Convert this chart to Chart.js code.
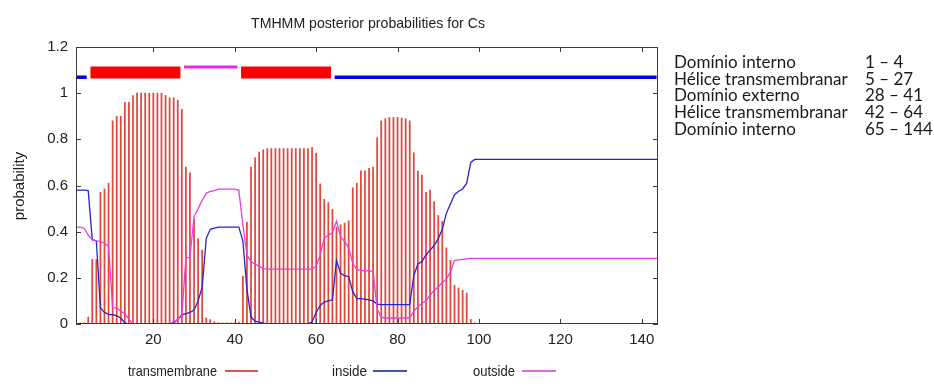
<!DOCTYPE html>
<html>
<head>
<meta charset="utf-8">
<script src="https://cdn.jsdelivr.net/npm/chart.js@4.4.1/dist/chart.umd.min.js"></script>
<style>
  html, body { margin: 0; padding: 0; background: #fff; }
  #wrap { position: relative; width: 934px; height: 388px; }
  #tmChart { position: absolute; left: 0; top: 0; }
  .panel { position: absolute; top: 54px; font-family: Lato, "Open Sans", sans-serif; font-size: 17px; line-height: 16.7px; color: #1a1a1a; white-space: nowrap; }
  #names { left: 674px; }
  #ranges { left: 865px; }
</style>
</head>
<body>
<div id="wrap">
  <canvas id="tmChart" width="934" height="388"></canvas>
  <div id="names" class="panel"></div>
  <div id="ranges" class="panel"></div>
</div>
<script>
// posterior probabilities per residue (1..144)
const transmembrane = [
  0.005, 0.005, 0.005, 0.03, 0.28, 0.28, 0.57, 0.585, 0.61, 0.88,
  0.90, 0.90, 0.96, 0.96, 0.99, 1.0, 1.0, 1.0, 1.0, 1.0,
  1.0, 1.0, 0.99, 0.98, 0.98, 0.97, 0.93, 0.68, 0.655, 0.455,
  0.37, 0.32, 0.026, 0.019, 0.01, 0.005, 0.005, 0.005, 0.005, 0.005,
  0.008, 0.207, 0.44, 0.68, 0.72, 0.745, 0.755, 0.76, 0.76, 0.76,
  0.76, 0.76, 0.76, 0.76, 0.76, 0.76, 0.76, 0.76, 0.765, 0.74,
  0.607, 0.54, 0.526, 0.497, 0.42, 0.43, 0.437, 0.447, 0.59, 0.61,
  0.664, 0.664, 0.674, 0.68, 0.807, 0.88, 0.89, 0.895, 0.895, 0.895,
  0.892, 0.889, 0.88, 0.742, 0.663, 0.645, 0.57, 0.58, 0.53, 0.47,
  0.445, 0.33, 0.275, 0.167, 0.156, 0.146, 0.134, 0.02, 0.005, 0,
  0, 0, 0, 0, 0, 0, 0, 0, 0, 0,
  0, 0, 0, 0, 0, 0, 0, 0, 0, 0,
  0, 0, 0, 0, 0, 0, 0, 0, 0, 0,
  0, 0, 0, 0, 0, 0, 0, 0, 0, 0,
  0, 0, 0, 0
];
const inside = [
  0.58, 0.58, 0.58, 0.578, 0.365, 0.36, 0.07, 0.05, 0.042, 0.04,
  0.036, 0.026, 0.005, 0, 0, 0, 0, 0, 0, 0,
  0, 0, 0, 0, 0.005, 0.02, 0.04, 0.045, 0.05, 0.06,
  0.10, 0.16, 0.37, 0.41, 0.415, 0.42, 0.42, 0.42, 0.42, 0.42,
  0.42, 0.36, 0.15, 0.03, 0.012, 0.008, 0.004, 0, 0, 0,
  0, 0, 0, 0, 0, 0, 0, 0, 0.01, 0.05,
  0.08, 0.095, 0.10, 0.105, 0.275, 0.22, 0.21, 0.205, 0.14, 0.11,
  0.11, 0.108, 0.105, 0.10, 0.086, 0.084, 0.084, 0.084, 0.084, 0.084,
  0.084, 0.084, 0.084, 0.21, 0.26, 0.27, 0.30, 0.32, 0.34, 0.37,
  0.41, 0.48, 0.52, 0.56, 0.575, 0.585, 0.61, 0.70, 0.713, 0.713,
  0.713, 0.713, 0.713, 0.713, 0.713, 0.713, 0.713, 0.713, 0.713, 0.713,
  0.713, 0.713, 0.713, 0.713, 0.713, 0.713, 0.713, 0.713, 0.713, 0.713,
  0.713, 0.713, 0.713, 0.713, 0.713, 0.713, 0.713, 0.713, 0.713, 0.713,
  0.713, 0.713, 0.713, 0.713, 0.713, 0.713, 0.713, 0.713, 0.713, 0.713,
  0.713, 0.713, 0.713, 0.713
];
const outside = [
  0.42, 0.42, 0.415, 0.385, 0.365, 0.36, 0.357, 0.35, 0.336, 0.07,
  0.07, 0.055, 0.045, 0.02, 0, 0, 0, 0, 0, 0,
  0, 0, 0, 0, 0.01, 0.02, 0.033, 0.285, 0.29, 0.465,
  0.50, 0.535, 0.566, 0.575, 0.578, 0.584, 0.584, 0.584, 0.584, 0.584,
  0.58, 0.43, 0.30, 0.27, 0.26, 0.25, 0.24, 0.238, 0.238, 0.238,
  0.238, 0.238, 0.238, 0.238, 0.238, 0.238, 0.238, 0.238, 0.238, 0.25,
  0.30, 0.37, 0.385, 0.395, 0.445, 0.38, 0.357, 0.33, 0.264, 0.235,
  0.232, 0.23, 0.23, 0.228, 0.065, 0.03, 0.026, 0.026, 0.026, 0.026,
  0.026, 0.026, 0.026, 0.055, 0.075, 0.09, 0.10, 0.125, 0.145, 0.16,
  0.18, 0.195, 0.225, 0.275, 0.278, 0.28, 0.282, 0.284, 0.284, 0.284,
  0.284, 0.284, 0.284, 0.284, 0.284, 0.284, 0.284, 0.284, 0.284, 0.284,
  0.284, 0.284, 0.284, 0.284, 0.284, 0.284, 0.284, 0.284, 0.284, 0.284,
  0.284, 0.284, 0.284, 0.284, 0.284, 0.284, 0.284, 0.284, 0.284, 0.284,
  0.284, 0.284, 0.284, 0.284, 0.284, 0.284, 0.284, 0.284, 0.284, 0.284,
  0.284, 0.284, 0.284, 0.284
];

// predicted topology
const domainNames = ["Domínio interno", "Hélice transmembranar", "Domínio externo", "Hélice transmembranar", "Domínio interno"];
const domainStart = [1, 5, 28, 42, 65];
const domainEnd = [4, 27, 41, 64, 144];
const domainKind = ["inside", "tm", "outside", "tm", "inside"];

const xTicks = [20, 40, 60, 80, 100, 120, 140];
const yTicks = [0, 0.2, 0.4, 0.6, 0.8, 1, 1.2];
const yTickLabels = ["0", "0.2", "0.4", "0.6", "0.8", "1", "1.2"];

const RED = "#e2473d", BLUE = "#2424d2", PINK = "#ec38ec";
const kindStyle = {
  inside: { level: 1.069, width: 3.5, color: "#0000e6" },
  tm: { level: 1.09, width: 12, color: "#ff0000" },
  outside: { level: 1.113, width: 3, color: "#ee22ee" }
};
const FONT = "'Liberation Sans', Arial, sans-serif";

const toPoints = arr => arr.map((v, i) => ({ x: i + 1, y: v }));

const domainSets = domainStart.map((s, i) => {
  const st = kindStyle[domainKind[i]];
  return {
    type: "line",
    data: [{ x: s - 0.45, y: st.level }, { x: domainEnd[i] - 0.35, y: st.level }],
    borderColor: st.color,
    borderWidth: st.width,
    borderCapStyle: "butt",
    pointRadius: 0,
    clip: 0,
    order: 0
  };
});

// gnuplot-like frame, inward ticks, title, axis label and legend
const frame = {
  id: "frame",
  afterDraw(chart) {
    const { ctx, chartArea: a, scales } = chart;
    ctx.save();
    ctx.strokeStyle = "#3a3a3a";
    ctx.lineWidth = 1;
    ctx.strokeRect(a.left + 0.5, a.top + 0.5, a.right - a.left - 1, a.bottom - a.top - 1);
    ctx.beginPath();
    scales.x.ticks.forEach(t => {
      const px = Math.round(scales.x.getPixelForValue(t.value)) + 0.5;
      ctx.moveTo(px, a.bottom); ctx.lineTo(px, a.bottom - 5);
      ctx.moveTo(px, a.top); ctx.lineTo(px, a.top + 5);
    });
    scales.y.ticks.forEach(t => {
      const py = Math.round(scales.y.getPixelForValue(t.value)) + 0.5;
      ctx.moveTo(a.left, py); ctx.lineTo(a.left + 5, py);
      ctx.moveTo(a.right, py); ctx.lineTo(a.right - 5, py);
    });
    ctx.stroke();

    ctx.fillStyle = "#222";
    ctx.font = "15px " + FONT;
    ctx.textBaseline = "alphabetic";
    ctx.textAlign = "center";
    ctx.fillText("TMHMM posterior probabilities for Cs", 368, 28, 234);

    ctx.save();
    ctx.translate(24, 186);
    ctx.rotate(-Math.PI / 2);
    ctx.fillText("probability", 0, 0, 75);
    ctx.restore();

    // legend: text then line sample
    const items = [
      { label: "transmembrane", x: 128, w: 89, l0: 225, l1: 258, color: "#d0584c" },
      { label: "inside", x: 332, w: 35, l0: 373, l1: 407, color: "#4650b8" },
      { label: "outside", x: 473, w: 42, l0: 522, l1: 556, color: "#e066e0" }
    ];
    ctx.textAlign = "left";
    items.forEach(it => {
      ctx.fillStyle = "#222";
      ctx.fillText(it.label, it.x, 376, it.w);
      ctx.strokeStyle = it.color;
      ctx.lineWidth = 2;
      ctx.beginPath();
      ctx.moveTo(it.l0, 371); ctx.lineTo(it.l1, 371);
      ctx.stroke();
    });
    ctx.restore();
  }
};

new Chart(document.getElementById("tmChart"), {
  type: "line",
  data: {
    datasets: [
      ...domainSets,
      {
        type: "line",
        label: "outside",
        data: toPoints(outside),
        borderColor: PINK,
        borderWidth: 1.3,
        pointRadius: 0,
        tension: 0,
        order: 1
      },
      {
        type: "line",
        label: "inside",
        data: toPoints(inside),
        borderColor: BLUE,
        borderWidth: 1.3,
        pointRadius: 0,
        tension: 0,
        order: 2
      },
      {
        type: "bar",
        label: "transmembrane",
        data: toPoints(transmembrane),
        backgroundColor: RED,
        barThickness: 1.1,
        borderWidth: 0,
        order: 5
      }
    ]
  },
  options: {
    responsive: false,
    animation: false,
    events: [],
    layout: { padding: { left: 0, top: 47, right: 276, bottom: 44 } },
    plugins: { legend: { display: false }, tooltip: { enabled: false } },
    scales: {
      x: {
        type: "linear",
        min: 1,
        max: 144,
        offset: false,
        grid: { display: false, drawTicks: false },
        border: { display: false },
        afterBuildTicks: s => { s.ticks = xTicks.map(v => ({ value: v })); },
        afterFit: s => { s.height = 20; },
        ticks: { maxRotation: 0, padding: 7, color: "#222", font: { family: FONT, size: 15 } }
      },
      y: {
        min: 0,
        max: 1.2,
        grid: { display: false, drawTicks: false },
        border: { display: false },
        afterBuildTicks: s => { s.ticks = yTicks.map(v => ({ value: v })); },
        afterFit: s => { s.width = 76; },
        ticks: {
          padding: 8,
          color: "#222",
          font: { family: FONT, size: 15 },
          callback: (v, i) => yTickLabels[i]
        }
      }
    }
  },
  plugins: [frame]
});

document.getElementById("names").innerHTML = domainNames.map(n => "<div>" + n + "</div>").join("");
document.getElementById("ranges").innerHTML = domainStart.map((s, i) => "<div>" + s + " – " + domainEnd[i] + "</div>").join("");
</script>
</body>
</html>
